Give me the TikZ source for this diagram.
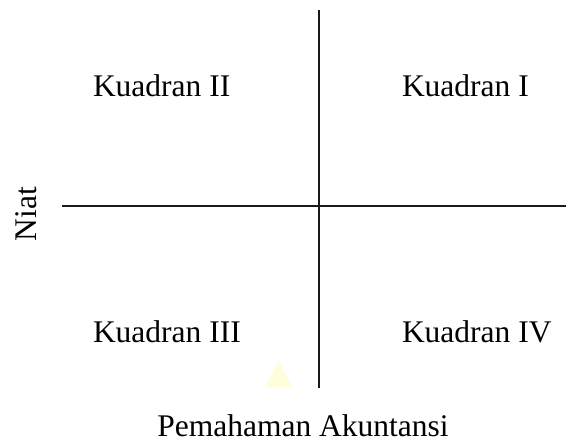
\documentclass[tikz,border=0pt]{standalone}
\usepackage{fontspec}
\setmainfont{Liberation Serif}
\begin{document}
\begin{tikzpicture}[x=1pt,y=-1pt,
  lbl/.style={inner sep=0pt,outer sep=0pt,anchor=base west,font=\fontsize{31.5}{36}\selectfont},
  axis/.style={line width=1.4pt,black!90}]
\useasboundingbox (0,0) rectangle (566,442);
\fill[yellow!14] (265,387) -- (292,387) -- (278.5,360) -- cycle;
\coordinate (vt) at (319,10);
\coordinate (vb) at (319,388);
\coordinate (hl) at (62,206);
\coordinate (hr) at (566,206);
\draw[axis] (vt) -- (vb);
\draw[axis] (hl) -- (hr);
\node[lbl] (q2) at (93,96) {Kuadran II};
\node[lbl] (q1) at (402,96) {Kuadran I};
\node[lbl] (q3) at (93,342) {Kuadran III};
\node[lbl] (q4) at (402,342) {Kuadran IV};
\node[lbl,anchor=base] (xl) at (303,436) {Pemahaman Akuntansi};
\node[lbl,anchor=base,rotate=90] (yl) at (37,214) {Niat};
\end{tikzpicture}
\end{document}
